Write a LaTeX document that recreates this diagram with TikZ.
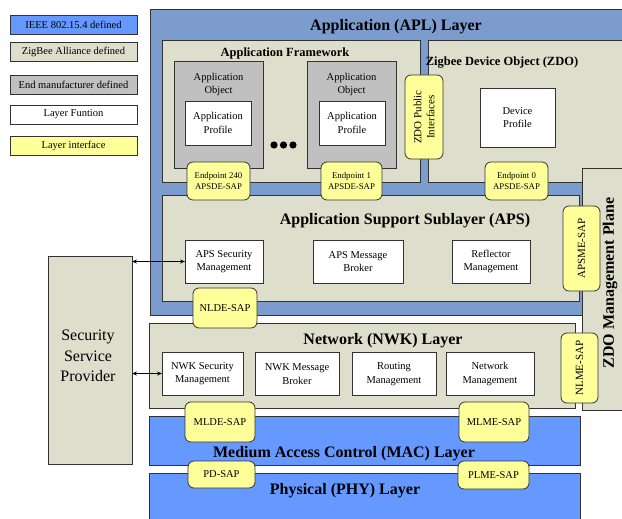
\documentclass[tikz,border=0pt]{standalone}
\usepackage{fontspec}
\setmainfont{Liberation Serif}
\usepackage{tikz}
\usetikzlibrary{arrows.meta,positioning}
\definecolor{ieeeblue}{RGB}{102,153,255}
\definecolor{aplblue}{RGB}{124,156,206}
\definecolor{zbgreen}{RGB}{221,223,204}
\definecolor{mfrgray}{RGB}{192,192,192}
\definecolor{sapyellow}{RGB}{255,255,153}
\newcommand\fsz[2]{\fontsize{#1}{#2}\selectfont}
\tikzset{
	blk/.style={draw=black!80, line width=0.8pt, inner sep=0pt, outer sep=0pt},
	func/.style={blk, fill=white, align=center, font=\fsz{10.5}{13.5}},
	sap/.style={blk, fill=sapyellow, rounded corners=6pt, align=center},
	legend/.style={blk, minimum width=127, minimum height=19, font=\fsz{10.5}{12}},
	layertitle/.style={font=\bfseries\fsz{16}{18}},
	subtitle/.style={font=\bfseries\fsz{12.5}{14}},
}

\begin{document}
\begin{tikzpicture}[x=1pt, y=-1pt, >={Stealth[length=5pt,width=4pt]}]
		%%%%% START %%%%%
		\useasboundingbox (0,0) rectangle (622,519);
		\clip (0,0) rectangle (622,519);
		
		\node[legend, fill=ieeeblue] (legieee) at (73.5,25) {IEEE 802.15.4 defined};
		\node[legend, fill=zbgreen] (legzb) at (73.5,52) {ZigBee Alliance defined};
		\node[legend, fill=mfrgray] (legmfr) at (73.5,84.5) {End manufacturer defined};
		\node[legend, fill=white] (legfun) at (73.5,114.5) {Layer Funtion};
		\node[legend, fill=sapyellow] (legif) at (73.5,145.5) {Layer interface};
		
		\node[blk, fill=aplblue, minimum width=480, minimum height=306] (apl) at (390,162) {};
		\node[layertitle] (apltitle) at (396,26.5) {Application (APL) Layer};
		
		\node[blk, fill=zbgreen, minimum width=258, minimum height=142] (afw) at (291,111) {};
		\node[subtitle] (afwtitle) at (285,53) {Application Framework};
		\node[blk, fill=zbgreen, minimum width=202, minimum height=142] (zdo) at (529,111) {};
		\node[subtitle] (zdotitle) at (502,63) {Zigbee Device Object (ZDO)};
		
		\node[blk, fill=mfrgray, minimum width=89, minimum height=107] (obj240) at (218.5,114.5) {};
		\node[align=center, font=\fsz{10.5}{13}, below=9pt of obj240.north] (obj240txt) {Application\\Object};
		\node[func, minimum width=66, minimum height=44] (prof240) at (218,123) {Application\\Profile};
		\node[blk, fill=mfrgray, minimum width=89, minimum height=107] (obj1) at (351.5,114.5) {};
		\node[align=center, font=\fsz{10.5}{13}, below=9pt of obj1.north] (obj1txt) {Application\\Object};
		\node[func, minimum width=66, minimum height=44] (prof1) at (352,123) {Application\\Profile};
		\fill (274,145) circle (3.6) (283.5,145) circle (3.6) (293,145) circle (3.6);
		
		\node[func, minimum width=75, minimum height=59] (devprof) at (517.5,117.5) {Device\\Profile};
		\node[sap, rotate=90, minimum width=84, minimum height=38, font=\fsz{11}{13}] (zdopub) at (424,117) {ZDO Public\\Interfaces};
		
		\node[blk, fill=zbgreen, minimum width=417, minimum height=106] (aps) at (370.5,248) {};
		\node[layertitle] (apstitle) at (405,221) {Application Support Sublayer (APS)};
		\node[func, minimum width=78, minimum height=43] (apssec) at (224,261.5) {APS Security\\Management};
		\node[func, minimum width=90, minimum height=43] (apsmsg) at (358,261.5) {APS Message\\Broker};
		\node[func, minimum width=78, minimum height=43] (refl) at (491,261.5) {Reflector\\Management};
		
		\node[sap, minimum width=63, minimum height=38, font=\fsz{8.8}{11}] (ep240) at (218.5,181) {Endpoint 240\\APSDE-SAP};
		\node[sap, minimum width=61, minimum height=38, font=\fsz{8.8}{11}] (ep1) at (351.5,181) {Endpoint 1\\APSDE-SAP};
		\node[sap, minimum width=63, minimum height=38, font=\fsz{8.8}{11}] (ep0) at (516.5,181) {Endpoint 0\\APSDE-SAP};
		
		\node[blk, fill=zbgreen, minimum width=426, minimum height=85] (nwk) at (362,365.5) {};
		\node[layertitle] (nwktitle) at (383,341) {Network (NWK) Layer};
		\node[func, minimum width=81, minimum height=43] (nwksec) at (202.5,373.5) {NWK Security\\Management};
		\node[func, minimum width=84, minimum height=43] (nwkmsg) at (297,374) {NWK Message\\Broker};
		\node[func, minimum width=84, minimum height=43] (routing) at (394,374) {Routing\\Management};
		\node[func, minimum width=88, minimum height=43] (netmgmt) at (490,374) {Network\\Management};
		\node[sap, minimum width=64, minimum height=40, font=\fsz{10.5}{12}] (nlde) at (225,308) {NLDE-SAP};
		
		\node[blk, fill=zbgreen, minimum width=48, minimum height=242] (mgmt) at (606,289) {};
		\node[layertitle, rotate=90] (mgmttitle) at (610,283) {ZDO Management Plane};
		\node[sap, rotate=90, minimum width=85, minimum height=37, font=\fsz{11}{13}] (apsme) at (581.5,248.5) {APSME-SAP};
		\node[sap, rotate=90, minimum width=70, minimum height=37, font=\fsz{11}{13}] (nlme) at (579.5,368) {NLME-SAP};
		
		\node[blk, fill=ieeeblue, minimum width=431, minimum height=49] (mac) at (364.5,440.5) {};
		\node[layertitle] (mactitle) at (344,454) {Medium Access Control (MAC) Layer};
		\node[sap, minimum width=70, minimum height=40, font=\fsz{10.5}{12}] (mlde) at (220,422) {MLDE-SAP};
		\node[sap, minimum width=70, minimum height=40, font=\fsz{10.5}{12}] (mlme) at (494,422) {MLME-SAP};
		
		\node[blk, fill=ieeeblue, minimum width=431, minimum height=57] (phy) at (364.5,501.5) {};
		\node[layertitle] (phytitle) at (345,491) {Physical (PHY) Layer};
		\node[sap, minimum width=67, minimum height=27, font=\fsz{10.5}{12}] (pdsap) at (221.5,474.5) {PD-SAP};
		\node[sap, minimum width=71, minimum height=28, font=\fsz{10.5}{12}] (plme) at (493.5,475) {PLME-SAP};
		
		\node[blk, fill=zbgreen, minimum width=84, minimum height=208] (ssp) at (90,360) {};
		\node[align=center, font=\fsz{16}{20.5}] (ssptxt) at (88,356) {Security\\Service\\Provider};
		\draw[<->, line width=0.8pt] (ssp.east |- apssec.west) -- (apssec.west);
		\draw[<->, line width=0.8pt] (ssp.east |- nwksec.west) -- (nwksec.west);
		
		%%%%% END %%%%%
	\end{tikzpicture}
\end{document}
